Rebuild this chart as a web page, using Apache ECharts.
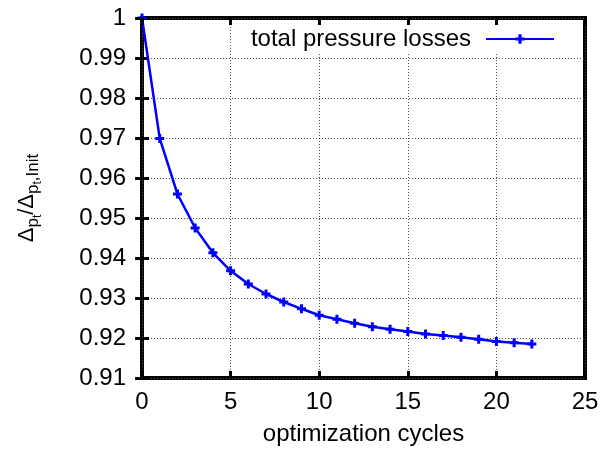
<!DOCTYPE html>
<html>
<head>
<meta charset="utf-8">
<script src="https://cdn.jsdelivr.net/npm/echarts@6/dist/echarts.min.js"></script>
<style>html,body{margin:0;padding:0;background:#fff;}#c{width:603px;height:455px;}</style>
</head>
<body>
<div id="c"></div>
<script>
const cycles = [0,1,2,3,4,5,6,7,8,9,10,11,12,13,14,15,16,17,18,19,20,21,22];
const lossRatio = [1.0, 0.9699, 0.956, 0.9475, 0.9413, 0.9368, 0.9335, 0.9310, 0.9290, 0.9273,
  0.9257, 0.9247, 0.9237, 0.9228, 0.9222, 0.9216, 0.9210, 0.9206, 0.9202, 0.9197, 0.9191, 0.9188, 0.9185];
const seriesName = 'total pressure losses';
const xTitle = 'optimization cycles';

const FONT = 'Liberation Sans, Arial, sans-serif';
const FS = 24;
const plusSym = 'path://M3,0h3v3h3v3h-3v3h-3v-3h-3v-3h3z';
const chart = echarts.init(document.getElementById('c'), null, {renderer: 'canvas'});
const gridLine = {show: true, lineStyle: {color: '#555', width: 1, type: [1, 2]}};
const tick = {show: true, inside: true, length: 7, lineStyle: {color: '#000', width: 3}};
chart.setOption({
  animation: false,
  backgroundColor: '#fff',
  grid: {left: 142, right: 18, top: 18, bottom: 77, show: true, borderColor: '#000', borderWidth: 4, backgroundColor: 'transparent'},
  legend: {
    data: [seriesName], right: 32, top: 25, align: 'right',
    padding: [2, 16, 2, 20], backgroundColor: '#fff',
    itemWidth: 68, itemHeight: 12,
    textStyle: {fontFamily: FONT, fontSize: FS, color: '#000', padding: [0, 10, 0, 0]}
  },
  xAxis: [{
    type: 'value', min: 0, max: 25, interval: 5,
    axisLine: {show: false}, axisTick: tick, splitLine: gridLine,
    axisLabel: {fontFamily: FONT, fontSize: FS, color: '#000', margin: 12},
    name: xTitle, nameLocation: 'middle', nameGap: 44,
    nameTextStyle: {fontFamily: FONT, fontSize: FS, color: '#000'}
  }, {
    type: 'value', position: 'top', min: 0, max: 25, interval: 5, z: 6,
    axisLine: {show: false}, axisTick: tick, splitLine: {show: false}, axisLabel: {show: false}
  }],
  yAxis: [{
    type: 'value', min: 0.91, max: 1, interval: 0.01,
    axisLine: {show: false}, axisTick: tick, splitLine: gridLine,
    axisLabel: {fontFamily: FONT, fontSize: FS, color: '#000', margin: 16,
      formatter: v => String(+v.toFixed(2))},
    name: '{d|Δ}{s|p}{ss|t}{d|/Δ}{s|p}{ss|t}{s|,Init}',
    nameLocation: 'middle', nameGap: 98, nameRotate: 90,
    nameTextStyle: {
      fontFamily: FONT, color: '#000',
      rich: {
        d: {fontFamily: FONT, fontSize: 22, color: '#000'},
        s: {fontFamily: FONT, fontSize: 17, color: '#000', padding: [12, 0, 0, 0]},
        ss: {fontFamily: FONT, fontSize: 12, color: '#000', padding: [22, 0, 0, 0]}
      }
    }
  }, {
    type: 'value', position: 'right', min: 0.91, max: 1, interval: 0.01, z: 6,
    axisLine: {show: false}, axisTick: tick, splitLine: {show: false}, axisLabel: {show: false}
  }],
  series: [{
    name: seriesName, type: 'line',
    data: cycles.map((c, i) => [c, lossRatio[i]]),
    symbol: plusSym, symbolSize: 9, showAllSymbol: true,
    lineStyle: {color: '#0000ff', width: 2.5},
    itemStyle: {color: '#0000ff'},
    z: 5, clip: false
  }]
});
</script>
</body>
</html>
